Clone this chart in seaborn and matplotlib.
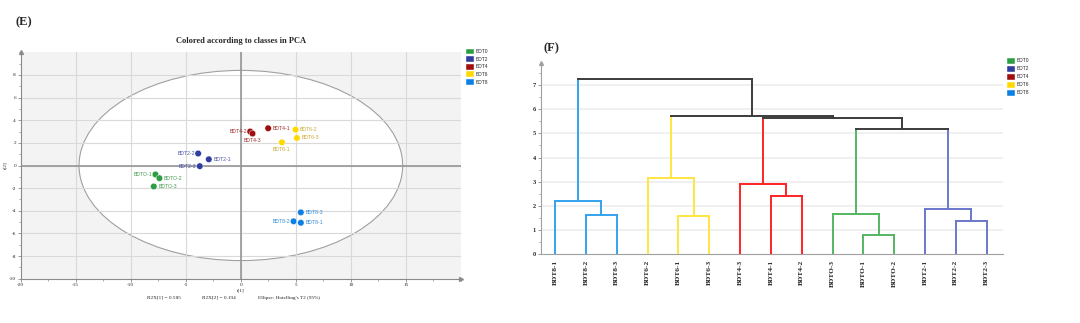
import numpy as np
import pandas as pd
import matplotlib
matplotlib.use("Agg")
import matplotlib.pyplot as plt
from matplotlib.patches import Ellipse, Patch
from matplotlib.ticker import MultipleLocator
import seaborn as sns

# ---------------- PCA score plot data ----------------
classes = ["BDT0", "BDT2", "BDT4", "BDT6", "BDT8"]
class_colors = ["#2e9e42", "#2e3d9e", "#a00d0d", "#ffd800", "#0b80e4"]
label_colors = ["#3f9a4a", "#4a55a6", "#a02828", "#c9a530", "#2a88d8"]

sample_ids = ["BDTO-1", "BDTO-2", "BDTO-3", "BDT2-1", "BDT2-2", "BDT2-3",
              "BDT4-1", "BDT4-2", "BDT4-3", "BDT6-1", "BDT6-2", "BDT6-3",
              "BDT8-1", "BDT8-2", "BDT8-3"]
sample_class = (["BDT0"] * 3 + ["BDT2"] * 3 + ["BDT4"] * 3 +
                ["BDT6"] * 3 + ["BDT8"] * 3)
t1_scores = [-7.76, -7.40, -7.91, -2.91, -3.88, -3.73, 2.48, 0.85, 1.06,
             3.73, 4.97, 5.09, 5.45, 4.79, 5.45]
t2_scores = [-0.79, -1.12, -1.85, 0.55, 1.06, -0.06, 3.29, 3.00, 2.82,
             2.05, 3.17, 2.43, -5.06, -4.93, -4.14]
label_side = ["left", "right", "right", "right", "left", "left",
              "right", "left", "below", "below", "right", "right",
              "right", "left", "right"]

r2x = [0.585, 0.194]
t2_ellipse = [14.7, 8.4]          # Hotelling's T2 (95%) semi-axes
x_ticks = [-20, -15, -10, -5, 0, 5, 10, 15]
y_ticks = [-10, -8, -6, -4, -2, 0, 2, 4, 6, 8]

# ---------------- hierarchical clustering data ----------------
leaf_labels = ["BDT8-1", "BDT8-2", "BDT8-3", "BDT6-2", "BDT6-1", "BDT6-3",
               "BDT4-3", "BDT4-1", "BDT4-2", "BDTO-3", "BDTO-1", "BDTO-2",
               "BDT2-1", "BDT2-2", "BDT2-3"]
# linkage rows (left node, right node, height); new nodes numbered from 15
merges = [
    (1, 2, 1.62), (0, 15, 2.20),
    (4, 5, 1.57), (3, 17, 3.14),
    (7, 8, 2.41), (6, 19, 2.92),
    (10, 11, 0.80), (9, 21, 1.67),
    (13, 14, 1.39), (12, 23, 1.86),
    (22, 24, 5.19), (20, 25, 5.65), (18, 26, 5.73), (16, 27, 7.23),
]
cluster_roots = {16: "BDT8", 18: "BDT6", 20: "BDT4", 22: "BDT0", 24: "BDT2"}
dendro_colors = {"BDT8": "#33a3ee", "BDT6": "#ffe641", "BDT4": "#ff2424",
                 "BDT0": "#55b562", "BDT2": "#6a78cc"}
link_black = "#3c3c3c"

# ---------------- style ----------------
sns.set_theme(style="white")
plt.rcParams["font.family"] = ["Liberation Serif", "DejaVu Serif"]
plt.rcParams["axes.unicode_minus"] = False

W, H = 1080, 323
fig = plt.figure(figsize=(W / 100, H / 100), dpi=100)


def fx(px):
    return px / W


def fy(py):
    return 1 - py / H


axis_grey = "#8a8a8a"

# ================= (E) PCA score plot =================
axE = fig.add_axes([fx(20.7), fy(278.7), fx(461 - 20.7), (278.7 - 52.3) / H])
axE.set_facecolor("#f3f3f3")
axE.set_xlim(-20, 20)
axE.set_ylim(-10, 10)

axE.add_patch(Ellipse((0, 0), 2 * t2_ellipse[0], 2 * t2_ellipse[1],
                      facecolor="white", edgecolor="#a0a0a0", lw=0.8, zorder=0.5))
for xv in x_ticks[1:]:
    axE.axvline(xv, color="#d9d9d9", lw=0.8, zorder=1)
for yv in y_ticks[1:]:
    axE.axhline(yv, color="#d9d9d9", lw=0.8, zorder=1)
axE.axvline(0, color="#8f8f8f", lw=1.1, zorder=1.5)
axE.axhline(0, color="#8f8f8f", lw=1.1, zorder=1.5)

scores = pd.DataFrame({"sample": sample_ids, "group": sample_class,
                       "t1": t1_scores, "t2": t2_scores, "side": label_side})
sns.scatterplot(data=scores, x="t1", y="t2", hue="group", hue_order=classes,
                palette=dict(zip(classes, class_colors)), s=22,
                linewidth=0.3, edgecolor="#ffffff", legend=False,
                zorder=3, ax=axE)

label_col = dict(zip(classes, label_colors))
for _, r in scores.iterrows():
    c = label_col[r["group"]]
    kw = dict(fontsize=3.7, color=c, family=["Liberation Sans", "DejaVu Sans"], zorder=4)
    if r["side"] == "right":
        axE.text(r["t1"] + 0.4, r["t2"], r["sample"], ha="left", va="center", **kw)
    elif r["side"] == "left":
        axE.text(r["t1"] - 0.3, r["t2"], r["sample"], ha="right", va="center", **kw)
    else:
        axE.text(r["t1"], r["t2"] - 0.65, r["sample"], ha="center", va="center", **kw)

axE.set_xticks(x_ticks)
axE.set_yticks(y_ticks)
axE.xaxis.set_minor_locator(MultipleLocator(2.5))
axE.yaxis.set_minor_locator(MultipleLocator(1))
axE.tick_params(axis="both", which="major", length=2.2, width=0.6, color=axis_grey,
                labelsize=3.8, pad=1.2, bottom=True, left=True)
axE.tick_params(axis="both", which="minor", length=1.2, width=0.5, color=axis_grey,
                bottom=True, left=True)
for sp in ["top", "right"]:
    axE.spines[sp].set_visible(False)
for sp in ["left", "bottom"]:
    axE.spines[sp].set_color(axis_grey)
    axE.spines[sp].set_linewidth(0.8)
axE.plot(0, 1, marker="^", ms=2.8, color=axis_grey, transform=axE.transAxes, clip_on=False)
axE.plot(1, 0, marker=">", ms=2.8, color=axis_grey, transform=axE.transAxes, clip_on=False)
axE.set_xlabel("t[1]", fontsize=3.8, labelpad=0.5)
axE.set_ylabel("t[2]", fontsize=3.8, labelpad=1)
axE.grid(False)

fig.text(fx(15.5), fy(22.5), "(E)", fontsize=9, fontweight="bold", ha="left", va="center")
fig.text(fx(241), fy(40.6), "Colored according to classes in PCA", fontsize=6,
         fontweight="bold", ha="center", va="center")
fig.text(fx(147), fy(297.7), f"R2X[1] = {r2x[0]:.3f}", fontsize=3.8, ha="left", va="center")
fig.text(fx(202), fy(297.7), f"R2X[2] = {r2x[1]:.3f}", fontsize=3.8, ha="left", va="center")
fig.text(fx(258), fy(297.7), "Ellipse: Hotelling's T2 (95%)", fontsize=3.8, ha="left", va="center")

legend_handles = [Patch(facecolor=c, edgecolor="#ffffff", linewidth=0.3) for c in class_colors]
fig.legend(legend_handles, classes, loc="upper left",
           bbox_to_anchor=(fx(465.5), fy(48.6)), frameon=False,
           prop={"family": ["Liberation Sans", "DejaVu Sans"], "size": 3.5},
           handlelength=1.65, handleheight=1.45, handletextpad=0.35,
           labelspacing=0.38, borderpad=0, borderaxespad=0)

# ================= (F) dendrogram =================
axF = fig.add_axes([fx(540.7), fy(254.3), fx(1002.7 - 540.7), (254.3 - 62.7) / H])
axF.set_facecolor("white")
n_leaf = len(leaf_labels)
axF.set_xlim(-0.47, n_leaf - 0.48)
axF.set_ylim(0, 7.92)

for yv in range(1, 8):
    axF.axhline(yv, color="#ececec", lw=1.1, zorder=0.5)

xpos = {i: float(i) for i in range(n_leaf)}
ypos = {i: 0.0 for i in range(n_leaf)}
children = {}
for k, (a, b, h) in enumerate(merges):
    node = n_leaf + k
    xpos[node] = (xpos[a] + xpos[b]) / 2
    ypos[node] = h
    children[node] = (a, b)

node_color = {}


def paint(node, colour):
    node_color[node] = colour
    for ch in children.get(node, ()):
        paint(ch, colour)


for root, cls in cluster_roots.items():
    paint(root, dendro_colors[cls])
for node in children:
    node_color.setdefault(node, link_black)

for node, (a, b) in children.items():
    h = ypos[node]
    line_kw = dict(lw=1.4, solid_capstyle="projecting", zorder=2)
    axF.plot([xpos[a], xpos[a]], [ypos[a], h], color=node_color[a], **line_kw)
    axF.plot([xpos[b], xpos[b]], [ypos[b], h], color=node_color[b], **line_kw)
    axF.plot([xpos[a], xpos[b]], [h, h], color=node_color[node], **line_kw)

axF.set_xticks(range(n_leaf))
axF.set_xticklabels(leaf_labels, rotation=90, fontsize=5.3, fontweight="bold")
axF.set_yticks(range(0, 8))
axF.set_yticklabels([str(v) for v in range(0, 8)], fontsize=4.5, fontweight="bold")
axF.yaxis.set_minor_locator(MultipleLocator(0.5))
axF.tick_params(axis="x", length=0, pad=4)
axF.tick_params(axis="y", which="major", length=2, width=0.6, color=axis_grey, pad=1.5, left=True)
axF.tick_params(axis="y", which="minor", length=1.2, width=0.5, color=axis_grey, left=True)
for sp in ["top", "right"]:
    axF.spines[sp].set_visible(False)
for sp in ["left", "bottom"]:
    axF.spines[sp].set_color("#a0a0a0")
    axF.spines[sp].set_linewidth(0.8)
axF.plot(0, 1, marker="^", ms=2.8, color="#a0a0a0", transform=axF.transAxes, clip_on=False)
axF.grid(False)

fig.text(fx(543), fy(48.3), "(F)", fontsize=9, fontweight="bold", ha="left", va="center")

fig.legend(legend_handles, classes, loc="upper left",
           bbox_to_anchor=(fx(1006.8), fy(58.0)), frameon=False,
           prop={"family": ["Liberation Sans", "DejaVu Sans"], "size": 3.5},
           handlelength=1.65, handleheight=1.45, handletextpad=0.35,
           labelspacing=0.45, borderpad=0, borderaxespad=0)

fig.savefig("out.png", dpi=100)
